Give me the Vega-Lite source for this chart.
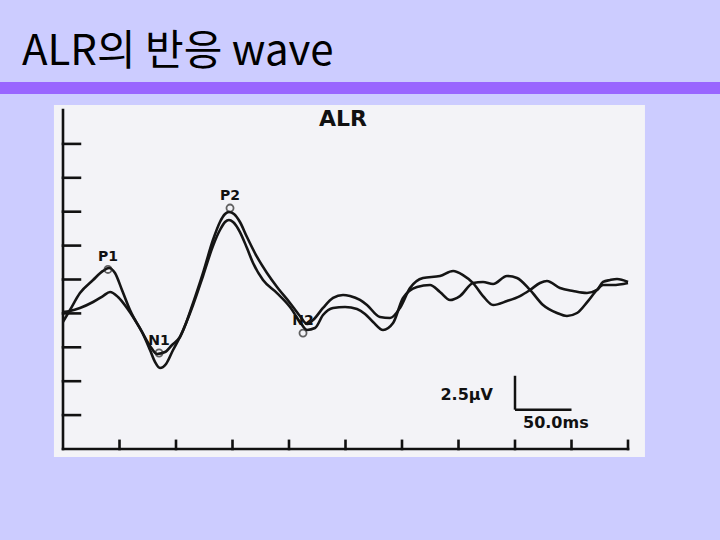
{
  "$schema": "https://vega.github.io/schema/vega-lite/v6.json",
  "width": 565,
  "height": 339,
  "autosize": {"type": "none"},
  "padding": {"left": 63, "top": 110, "right": 92, "bottom": 91},
  "background": "#CCCCFF",
  "config": {"view": {"stroke": null}, "font": "DejaVu Sans"},
  "title": {
    "text": "ALR의 반응 wave",
    "anchor": "start",
    "frame": "group",
    "orient": "top",
    "font": "Noto Sans CJK KR",
    "fontSize": 42,
    "fontWeight": "normal",
    "color": "#000000",
    "baseline": "alphabetic",
    "dx": -41,
    "dy": 40,
    "offset": 15
  },
  "datasets": {
    "frame": [
      {"part": "panel", "t0": -8, "t1": 515, "v0": -13.09, "v1": 12.87},
      {"part": "bar", "t0": -60, "t1": 590, "v0": 13.68, "v1": 14.57}
    ],
    "axes": [
      {"t0": 0, "t1": 0, "v0": -12.5, "v1": 12.5},
      {"t0": 0, "t1": 500, "v0": -12.5, "v1": -12.5},
      {"t0": 0, "t1": 15, "v0": -10, "v1": -10},
      {"t0": 0, "t1": 15, "v0": -7.5, "v1": -7.5},
      {"t0": 0, "t1": 15, "v0": -5, "v1": -5},
      {"t0": 0, "t1": 15, "v0": -2.5, "v1": -2.5},
      {"t0": 0, "t1": 15, "v0": 0, "v1": 0},
      {"t0": 0, "t1": 15, "v0": 2.5, "v1": 2.5},
      {"t0": 0, "t1": 15, "v0": 5, "v1": 5},
      {"t0": 0, "t1": 15, "v0": 7.5, "v1": 7.5},
      {"t0": 0, "t1": 15, "v0": 10, "v1": 10},
      {"t0": 50, "t1": 50, "v0": -12.5, "v1": -11.9},
      {"t0": 100, "t1": 100, "v0": -12.5, "v1": -11.9},
      {"t0": 150, "t1": 150, "v0": -12.5, "v1": -11.9},
      {"t0": 200, "t1": 200, "v0": -12.5, "v1": -11.9},
      {"t0": 250, "t1": 250, "v0": -12.5, "v1": -11.9},
      {"t0": 300, "t1": 300, "v0": -12.5, "v1": -11.9},
      {"t0": 350, "t1": 350, "v0": -12.5, "v1": -11.9},
      {"t0": 400, "t1": 400, "v0": -12.5, "v1": -11.9},
      {"t0": 450, "t1": 450, "v0": -12.5, "v1": -11.9},
      {"t0": 500, "t1": 500, "v0": -12.5, "v1": -11.9}
    ],
    "waves": [
      {"trace": "A", "t": 0, "v": -3.13}, {"trace": "A", "t": 6.2, "v": -2.25}, {"trace": "A", "t": 15, "v": -1.0}, {"trace": "A", "t": 26.6, "v": -0.04}, {"trace": "A", "t": 35.4, "v": 0.63}, {"trace": "A", "t": 40.7, "v": 0.85}, {"trace": "A", "t": 46, "v": 0.48}, {"trace": "A", "t": 52.2, "v": -0.77}, {"trace": "A", "t": 59.3, "v": -2.25}, {"trace": "A", "t": 69.9, "v": -3.87}, {"trace": "A", "t": 77, "v": -4.9}, {"trace": "A", "t": 83.2, "v": -5.49}, {"trace": "A", "t": 90.3, "v": -5.35}, {"trace": "A", "t": 96.5, "v": -4.83}, {"trace": "A", "t": 103.5, "v": -4.24}, {"trace": "A", "t": 115.1, "v": -1.73}, {"trace": "A", "t": 123.9, "v": 0.48}, {"trace": "A", "t": 132.7, "v": 2.91}, {"trace": "A", "t": 138.9, "v": 4.24}, {"trace": "A", "t": 143.4, "v": 4.83}, {"trace": "A", "t": 146.9, "v": 4.98}, {"trace": "A", "t": 151.3, "v": 4.83}, {"trace": "A", "t": 156.6, "v": 4.24}, {"trace": "A", "t": 162.8, "v": 3.13}, {"trace": "A", "t": 171.7, "v": 1.66}, {"trace": "A", "t": 180.5, "v": 0.48}, {"trace": "A", "t": 189.4, "v": -0.55}, {"trace": "A", "t": 200.9, "v": -1.73}, {"trace": "A", "t": 209.7, "v": -2.69}, {"trace": "A", "t": 215.9, "v": -3.28}, {"trace": "A", "t": 221.3, "v": -2.99}, {"trace": "A", "t": 230.1, "v": -2.1}, {"trace": "A", "t": 239, "v": -1.36}, {"trace": "A", "t": 247.8, "v": -1.14}, {"trace": "A", "t": 254, "v": -1.22}, {"trace": "A", "t": 262.8, "v": -1.51}, {"trace": "A", "t": 269, "v": -1.88}, {"trace": "A", "t": 280.5, "v": -2.77}, {"trace": "A", "t": 289.4, "v": -2.84}, {"trace": "A", "t": 298.2, "v": -2.1}, {"trace": "A", "t": 307.1, "v": -0.63}, {"trace": "A", "t": 318.6, "v": 0.11}, {"trace": "A", "t": 333.6, "v": 0.26}, {"trace": "A", "t": 345.2, "v": 0.63}, {"trace": "A", "t": 354, "v": 0.33}, {"trace": "A", "t": 362.9, "v": -0.26}, {"trace": "A", "t": 371.7, "v": -1.22}, {"trace": "A", "t": 380.6, "v": -1.88}, {"trace": "A", "t": 392.9, "v": -1.59}, {"trace": "A", "t": 404.4, "v": -1.22}, {"trace": "A", "t": 413.3, "v": -0.77}, {"trace": "A", "t": 422.1, "v": -0.26}, {"trace": "A", "t": 428.3, "v": -0.11}, {"trace": "A", "t": 439.8, "v": -0.63}, {"trace": "A", "t": 451.4, "v": -0.85}, {"trace": "A", "t": 463.7, "v": -1.0}, {"trace": "A", "t": 472.6, "v": -0.77}, {"trace": "A", "t": 477.9, "v": -0.18}, {"trace": "A", "t": 484.1, "v": -0.04}, {"trace": "A", "t": 490.3, "v": 0.04}, {"trace": "A", "t": 500, "v": -0.18},
      {"trace": "B", "t": 0, "v": -2.4}, {"trace": "B", "t": 6.2, "v": -2.32}, {"trace": "B", "t": 15, "v": -2.1}, {"trace": "B", "t": 26.6, "v": -1.66}, {"trace": "B", "t": 35.4, "v": -1.22}, {"trace": "B", "t": 41.6, "v": -0.92}, {"trace": "B", "t": 48.7, "v": -1.29}, {"trace": "B", "t": 56.6, "v": -2.1}, {"trace": "B", "t": 63.7, "v": -2.99}, {"trace": "B", "t": 69.9, "v": -3.87}, {"trace": "B", "t": 77, "v": -5.2}, {"trace": "B", "t": 81.4, "v": -6.08}, {"trace": "B", "t": 85.8, "v": -6.53}, {"trace": "B", "t": 91.2, "v": -6.23}, {"trace": "B", "t": 97.4, "v": -5.2}, {"trace": "B", "t": 103.5, "v": -4.24}, {"trace": "B", "t": 115.1, "v": -1.88}, {"trace": "B", "t": 123.9, "v": 0.26}, {"trace": "B", "t": 132.7, "v": 2.47}, {"trace": "B", "t": 138.9, "v": 3.65}, {"trace": "B", "t": 143.4, "v": 4.24}, {"trace": "B", "t": 146.9, "v": 4.39}, {"trace": "B", "t": 150.5, "v": 4.24}, {"trace": "B", "t": 156.6, "v": 3.5}, {"trace": "B", "t": 162.8, "v": 2.32}, {"trace": "B", "t": 168.2, "v": 1.22}, {"trace": "B", "t": 177, "v": -0.04}, {"trace": "B", "t": 189.4, "v": -1.0}, {"trace": "B", "t": 200.9, "v": -2.03}, {"trace": "B", "t": 209.7, "v": -3.13}, {"trace": "B", "t": 215.9, "v": -3.72}, {"trace": "B", "t": 223, "v": -3.58}, {"trace": "B", "t": 230.1, "v": -2.62}, {"trace": "B", "t": 239, "v": -2.1}, {"trace": "B", "t": 249.6, "v": -2.03}, {"trace": "B", "t": 260.2, "v": -2.18}, {"trace": "B", "t": 267.3, "v": -2.54}, {"trace": "B", "t": 274.4, "v": -3.13}, {"trace": "B", "t": 283.2, "v": -3.72}, {"trace": "B", "t": 292.1, "v": -3.21}, {"trace": "B", "t": 300.9, "v": -1.36}, {"trace": "B", "t": 313.3, "v": -0.55}, {"trace": "B", "t": 324.8, "v": -0.41}, {"trace": "B", "t": 333.6, "v": -0.92}, {"trace": "B", "t": 342.5, "v": -1.51}, {"trace": "B", "t": 351.3, "v": -1.22}, {"trace": "B", "t": 362.9, "v": -0.26}, {"trace": "B", "t": 371.7, "v": -0.18}, {"trace": "B", "t": 380.6, "v": -0.33}, {"trace": "B", "t": 392.9, "v": 0.26}, {"trace": "B", "t": 401.8, "v": 0.11}, {"trace": "B", "t": 413.3, "v": -0.77}, {"trace": "B", "t": 424.8, "v": -1.88}, {"trace": "B", "t": 437.2, "v": -2.47}, {"trace": "B", "t": 446, "v": -2.69}, {"trace": "B", "t": 454.9, "v": -2.47}, {"trace": "B", "t": 464.6, "v": -1.59}, {"trace": "B", "t": 472.6, "v": -0.77}, {"trace": "B", "t": 477.9, "v": -0.41}, {"trace": "B", "t": 486.8, "v": -0.41}, {"trace": "B", "t": 500, "v": -0.26}
    ],
    "peaks": [
      {"label": "P1", "t": 39.8, "v": 0.74},
      {"label": "N1", "t": 85, "v": -5.42},
      {"label": "P2", "t": 147.8, "v": 5.27},
      {"label": "N2", "t": 212.4, "v": -3.95}
    ],
    "heading": [
      {"label": "ALR", "t": 247.8, "v": 11.32}
    ],
    "scalebar": [
      {"what": "time", "t0": 400, "t1": 450, "v0": -9.6, "v1": -9.6},
      {"what": "amplitude", "t0": 400, "t1": 400, "v0": -9.6, "v1": -7.1}
    ],
    "amplabel": [
      {"label": "2.5µV", "t": 380.5, "v": -8.89}
    ],
    "timelabel": [
      {"label": "50.0ms", "t": 407.1, "v": -10.95}
    ]
  },
  "layer": [
    {
      "data": {"name": "frame"},
      "mark": {"type": "rect", "clip": false},
      "encoding": {
        "x": {"field": "t0", "type": "quantitative", "scale": {"domain": [0, 500], "nice": false, "zero": false}, "axis": null},
        "x2": {"field": "t1"},
        "y": {"field": "v0", "type": "quantitative", "scale": {"domain": [-12.5, 12.5], "nice": false, "zero": false}, "axis": null},
        "y2": {"field": "v1"},
        "color": {"field": "part", "type": "nominal", "scale": {"domain": ["panel", "bar"], "range": ["#F3F3F7", "#9966FF"]}, "legend": null}
      }
    },
    {
      "data": {"name": "axes"},
      "mark": {"type": "rule", "strokeWidth": 2.6, "color": "#111111", "strokeCap": "square"},
      "encoding": {
        "x": {"field": "t0", "type": "quantitative", "axis": null},
        "x2": {"field": "t1"},
        "y": {"field": "v0", "type": "quantitative", "axis": null},
        "y2": {"field": "v1"}
      }
    },
    {
      "data": {"name": "heading"},
      "mark": {"type": "text", "font": "DejaVu Sans", "fontWeight": "bold", "fontSize": 22, "baseline": "alphabetic", "align": "center", "color": "#111111"},
      "encoding": {
        "x": {"field": "t", "type": "quantitative", "axis": null},
        "y": {"field": "v", "type": "quantitative", "axis": null},
        "text": {"field": "label"}
      }
    },
    {
      "data": {"name": "waves"},
      "mark": {"type": "line", "interpolate": "monotone", "strokeWidth": 2.6, "color": "#151515"},
      "encoding": {
        "x": {"field": "t", "type": "quantitative", "axis": null},
        "y": {"field": "v", "type": "quantitative", "axis": null},
        "detail": {"field": "trace", "type": "nominal"}
      }
    },
    {
      "data": {"name": "peaks"},
      "mark": {"type": "point", "shape": "circle", "size": 50, "filled": false, "stroke": "#222222", "strokeWidth": 1.8},
      "encoding": {
        "x": {"field": "t", "type": "quantitative", "axis": null},
        "y": {"field": "v", "type": "quantitative", "axis": null}
      }
    },
    {
      "data": {"name": "peaks"},
      "mark": {"type": "text", "font": "DejaVu Sans", "fontWeight": "bold", "fontSize": 14, "baseline": "middle", "align": "center", "dy": -12, "color": "#111111"},
      "encoding": {
        "x": {"field": "t", "type": "quantitative", "axis": null},
        "y": {"field": "v", "type": "quantitative", "axis": null},
        "text": {"field": "label"}
      }
    },
    {
      "data": {"name": "scalebar"},
      "mark": {"type": "rule", "strokeWidth": 2.5, "color": "#111111"},
      "encoding": {
        "x": {"field": "t0", "type": "quantitative", "axis": null},
        "x2": {"field": "t1"},
        "y": {"field": "v0", "type": "quantitative", "axis": null},
        "y2": {"field": "v1"}
      }
    },
    {
      "data": {"name": "amplabel"},
      "mark": {"type": "text", "font": "DejaVu Sans", "fontWeight": "bold", "fontSize": 16, "baseline": "alphabetic", "align": "right", "color": "#111111"},
      "encoding": {
        "x": {"field": "t", "type": "quantitative", "axis": null},
        "y": {"field": "v", "type": "quantitative", "axis": null},
        "text": {"field": "label"}
      }
    },
    {
      "data": {"name": "timelabel"},
      "mark": {"type": "text", "font": "DejaVu Sans", "fontWeight": "bold", "fontSize": 16, "baseline": "alphabetic", "align": "left", "color": "#111111"},
      "encoding": {
        "x": {"field": "t", "type": "quantitative", "axis": null},
        "y": {"field": "v", "type": "quantitative", "axis": null},
        "text": {"field": "label"}
      }
    }
  ]
}
